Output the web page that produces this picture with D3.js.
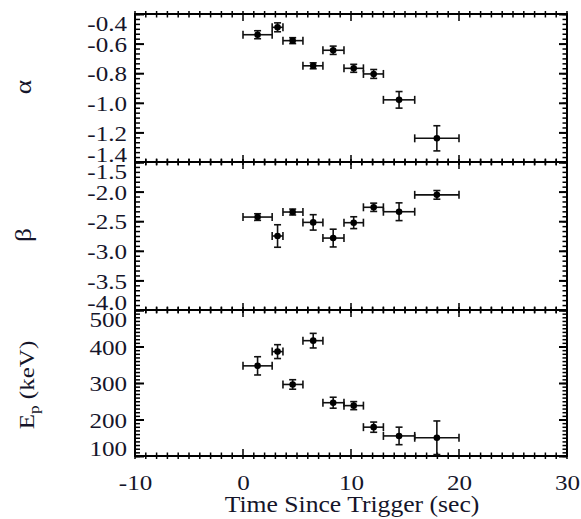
<!DOCTYPE html>
<html>
<head>
<meta charset="utf-8">
<script src="https://cdn.jsdelivr.net/npm/d3@7"></script>
<style>
  body { margin: 0; background: #fff; }
  svg text { font-family: "Liberation Serif", "Times New Roman", Times, serif; fill: #15152a; }
</style>
</head>
<body>
<div id="cont"></div>
<script>
// time bins (sec since trigger)
var tStart = [0.0, 2.7, 3.7, 5.55, 7.4, 9.35, 11.15, 13.0, 15.9];
var tEnd   = [2.7, 3.7, 5.55, 7.4, 9.35, 11.15, 13.0, 15.9, 20.0];
var tMid   = [1.35, 3.2, 4.6, 6.5, 8.35, 10.25, 12.1, 14.45, 17.95];

// alpha
var alpha    = [-0.54, -0.49, -0.58, -0.75, -0.645, -0.767, -0.805, -0.98, -1.24];
var alphaErr = [0.027, 0.03, 0.02, 0.02, 0.028, 0.027, 0.03, 0.056, 0.085];

// beta
var beta    = [-2.43, -2.75, -2.345, -2.52, -2.785, -2.525, -2.265, -2.34, -2.055];
var betaErr = [0.056, 0.19, 0.05, 0.13, 0.15, 0.10, 0.07, 0.15, 0.073];

// Ep (keV)
var ep    = [347, 386, 296, 416, 246, 238, 179, 155, 150];
var epErr = [25, 19, 13, 20, 15, 11, 14, 24, 46];

var xTicks = [-10, 0, 10, 20, 30];
var alphaTicks = [-0.4, -0.6, -0.8, -1.0, -1.2, -1.4];
var betaTicks = [-1.5, -2.0, -2.5, -3.0, -3.5, -4.0];
var epTicks = [100, 200, 300, 400, 500];

var W = 581, H = 519;
var left = 135, right = 567;
var sx = 1.14; // glyphs in the picture are a bit wider than tall

var svg = d3.select("#cont").append("svg")
  .attr("width", W).attr("height", H);

var x = d3.scaleLinear().domain([-10, 30]).range([left, right]);

var panels = [
  { vals: alpha, err: alphaErr, dom: [-1.4, -0.4], top: 14, bot: 162,
    ticks: alphaTicks, minor: 0.2 / 6, fmt: d3.format(".1f"), label: "alpha" },
  { vals: beta, err: betaErr, dom: [-4.0, -1.5], top: 162, bot: 310,
    ticks: betaTicks, minor: 0.5 / 6, fmt: d3.format(".1f"), label: "beta" },
  { vals: ep, err: epErr, dom: [100, 500], top: 310, bot: 456,
    ticks: epTicks, minor: 10, fmt: d3.format("d"), label: "ep" }
];

function range(a, b, step) {
  var out = [];
  var n = Math.round((b - a) / step);
  for (var i = 0; i <= n; i++) out.push(a + i * step);
  return out;
}

var xMinor = range(-10, 30, 1);

panels.forEach(function(p, pi) {
  var y = d3.scaleLinear().domain(p.dom).range([p.bot, p.top]);
  var g = svg.append("g");

  // frame
  g.append("rect")
    .attr("x", left).attr("y", p.top)
    .attr("width", right - left).attr("height", p.bot - p.top)
    .attr("fill", "none").attr("stroke", "#000").attr("stroke-width", 2);

  // minor y ticks, left and right (inward)
  var yMinor = range(p.dom[0], p.dom[1], p.minor);
  g.append("g").attr("transform", "translate(" + left + ",0)")
    .call(d3.axisLeft(y).tickValues(yMinor).tickSizeInner(-5).tickSizeOuter(0).tickFormat(""))
    .call(function(s) { s.select(".domain").remove(); s.selectAll("line").attr("stroke-width", 1.5); });
  g.append("g").attr("transform", "translate(" + right + ",0)")
    .call(d3.axisRight(y).tickValues(yMinor).tickSizeInner(-4.5).tickSizeOuter(0).tickFormat(""))
    .call(function(s) { s.select(".domain").remove(); s.selectAll("line").attr("stroke-width", 1.5); });

  // major y ticks with labels
  g.append("g").attr("transform", "translate(" + left + ",0)")
    .call(d3.axisLeft(y).tickValues(p.ticks).tickSizeInner(-9).tickSizeOuter(0).tickPadding(7)
      .tickFormat(function(d) { return p.fmt(d).replace("\u2212", "-"); }))
    .call(function(s) {
      s.select(".domain").remove();
      s.selectAll("line").attr("stroke-width", 2);
      s.selectAll("text")
        .attr("font-size", 22)
        .attr("transform", "scale(" + sx + ",1)")
        .attr("dy", function(d) {
          if (d === p.dom[1]) return "0.74em";
          if (d === p.dom[0]) return "-0.04em";
          return "0.35em";
        });
    });
  g.append("g").attr("transform", "translate(" + right + ",0)")
    .call(d3.axisRight(y).tickValues(p.ticks).tickSizeInner(-8).tickSizeOuter(0).tickFormat(""))
    .call(function(s) { s.select(".domain").remove(); s.selectAll("line").attr("stroke-width", 2); });

  // x ticks on top and bottom edges (crossing the line, longer inward)
  [p.top, p.bot].forEach(function(yy, k) {
    var dir = k === 0 ? 1 : -1;
    g.append("g").selectAll("line.minor")
      .data(xMinor).enter().append("line")
      .attr("x1", function(d) { return x(d); }).attr("x2", function(d) { return x(d); })
      .attr("y1", yy - 3 * dir)
      .attr("y2", function(d) { return yy + (d % 10 === 0 ? 7 : 3.5) * dir; })
      .attr("stroke", "#000").attr("stroke-width", 1.5);
  });

  // error bars and points
  var pts = g.append("g").selectAll("g.pt")
    .data(p.vals.map(function(v, i) {
      return { t0: tStart[i], t1: tEnd[i], t: tMid[i], v: v, e: p.err[i] };
    }))
    .enter().append("g");

  pts.append("line")
    .attr("x1", function(d) { return x(d.t0); }).attr("x2", function(d) { return x(d.t1); })
    .attr("y1", function(d) { return y(d.v); }).attr("y2", function(d) { return y(d.v); });
  pts.append("line")
    .attr("x1", function(d) { return x(d.t0); }).attr("x2", function(d) { return x(d.t0); })
    .attr("y1", function(d) { return y(d.v) - 4; }).attr("y2", function(d) { return y(d.v) + 4; });
  pts.append("line")
    .attr("x1", function(d) { return x(d.t1); }).attr("x2", function(d) { return x(d.t1); })
    .attr("y1", function(d) { return y(d.v) - 4; }).attr("y2", function(d) { return y(d.v) + 4; });
  pts.append("line")
    .attr("x1", function(d) { return x(d.t); }).attr("x2", function(d) { return x(d.t); })
    .attr("y1", function(d) { return y(d.v - d.e); }).attr("y2", function(d) { return y(d.v + d.e); });
  pts.append("line")
    .attr("x1", function(d) { return x(d.t) - 3.5; }).attr("x2", function(d) { return x(d.t) + 3.5; })
    .attr("y1", function(d) { return y(d.v - d.e); }).attr("y2", function(d) { return y(d.v - d.e); });
  pts.append("line")
    .attr("x1", function(d) { return x(d.t) - 3.5; }).attr("x2", function(d) { return x(d.t) + 3.5; })
    .attr("y1", function(d) { return y(d.v + d.e); }).attr("y2", function(d) { return y(d.v + d.e); });
  pts.selectAll("line").attr("stroke", "#111").attr("stroke-width", 1.6);
  pts.append("circle")
    .attr("cx", function(d) { return x(d.t); })
    .attr("cy", function(d) { return y(d.v); })
    .attr("r", 3.3)
    .attr("fill", "#000");

  // y titles
  var mid = (p.top + p.bot) / 2;
  var t = svg.append("text")
    .attr("transform", "translate(" + (p.label === "ep" ? 34 : 31) + "," + (p.label === "ep" ? 385 : mid - 1) + ") rotate(-90) scale(" + sx + ",1)")
    .attr("text-anchor", "middle")
    .attr("font-size", p.label === "ep" ? 22 : 24);
  if (p.label === "alpha") t.text("\u03b1");
  else if (p.label === "beta") t.text("\u03b2");
  else {
    t.append("tspan").text("E");
    t.append("tspan").attr("font-size", 15).attr("dy", 5).text("p");
    t.append("tspan").attr("dy", -5).text(" (keV)");
  }
});

// x tick labels
svg.append("g").attr("transform", "translate(0,456)")
  .call(d3.axisBottom(x).tickValues(xTicks).tickSize(0).tickPadding(18)
    .tickFormat(function(d) { return d3.format("d")(d).replace("\u2212", "-"); }))
  .call(function(s) {
    s.select(".domain").remove();
    s.selectAll("text")
      .attr("font-size", 22)
      .attr("transform", "scale(" + sx + ",1)");
  });

// x title
svg.append("text")
  .attr("transform", "translate(352,512) scale(" + sx + ",1)")
  .attr("text-anchor", "middle")
  .attr("font-size", 22.5)
  .text("Time Since Trigger (sec)");
</script>
</body>
</html>
